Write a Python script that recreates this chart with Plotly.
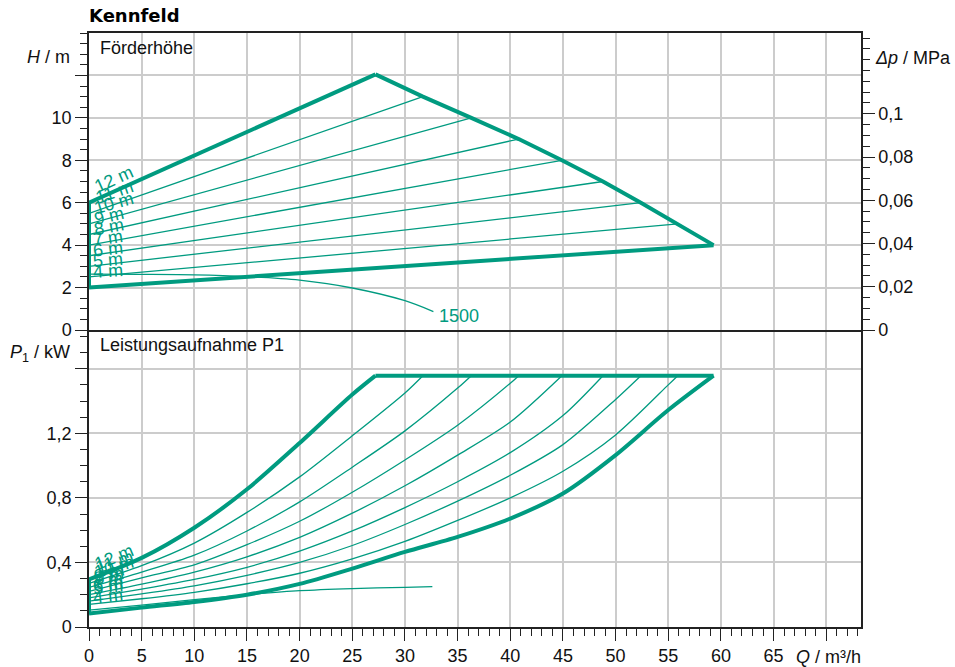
import math
import plotly.graph_objects as go

# ---------------- data ----------------
set_heads = [12, 11, 10, 9, 8, 7, 6, 5, 4]                      # set value, m
head_at_zero_flow = [6.0, 5.5, 5.0, 4.5, 4.0, 3.5, 3.0, 2.5, 2.0]  # H at Q = 0
flow_at_limit = [27.2, 31.7, 36.3, 40.8, 44.9, 48.8, 52.4, 55.9, 59.3]
head_at_limit = [12.05, 11.0, 10.0, 9.0, 8.0, 7.0, 6.0, 5.0, 4.0]

speed_label = "1500"
speed_flow_h = [0, 5, 10, 15, 20, 25, 30, 32.7]
speed_head = [2.63, 2.62, 2.6, 2.52, 2.35, 1.98, 1.38, 0.87]

power_flow = [0, 5, 10, 15, 20, 25, 30, 35, 40, 45, 50, 55]
power_limit = 1.557
p1_12 = [0.295, 0.428, 0.615, 0.853, 1.14, 1.44]
p1_11 = [0.27, 0.38, 0.52, 0.71, 0.93, 1.185, 1.45]
p1_10 = [0.245, 0.34, 0.445, 0.595, 0.775, 0.99, 1.215, 1.48]
p1_9 = [0.22, 0.305, 0.385, 0.51, 0.655, 0.835, 1.035, 1.25, 1.51]
p1_8 = [0.2, 0.265, 0.34, 0.435, 0.555, 0.705, 0.875, 1.065, 1.27]
p1_7 = [0.18, 0.235, 0.295, 0.37, 0.47, 0.595, 0.74, 0.9, 1.08, 1.31]
p1_6 = [0.16, 0.205, 0.255, 0.32, 0.4, 0.505, 0.635, 0.78, 0.94, 1.13, 1.41]
p1_5 = [0.14, 0.175, 0.215, 0.268, 0.333, 0.422, 0.53, 0.66, 0.8, 0.965, 1.19, 1.5]
p1_4 = [0.083, 0.12, 0.155, 0.2, 0.267, 0.362, 0.465, 0.558, 0.672, 0.827, 1.065, 1.344]
p1_curves = [p1_12, p1_11, p1_10, p1_9, p1_8, p1_7, p1_6, p1_5, p1_4]

speed_flow_p = [0, 5, 10, 15, 20, 25, 30, 32.6]
speed_power = [0.105, 0.135, 0.17, 0.2, 0.225, 0.238, 0.246, 0.25]

q_ticks = [0, 5, 10, 15, 20, 25, 30, 35, 40, 45, 50, 55, 60, 65, 70]
q_tick_labels = ["0", "5", "10", "15", "20", "25", "30", "35", "40", "45",
                 "50", "55", "60", "65", ""]
h_ticks = [0, 2, 4, 6, 8, 10, 12]
h_tick_labels = ["0", "2", "4", "6", "8", "10", ""]
dp_ticks = [0, 0.02, 0.04, 0.06, 0.08, 0.1]
dp_tick_labels = ["0", "0,02", "0,04", "0,06", "0,08", "0,1"]
p_ticks = [0, 0.4, 0.8, 1.2, 1.6]
p_tick_labels = ["0", "0,4", "0,8", "1,2", ""]

# ---------------- style / geometry ----------------
GREEN = "#009B80"
GRID = "#cccccc"
AXC = "#222222"
FONT = "Liberation Sans, Arial, sans-serif"
FS = 18
THICK = 4
THIN = 1.3

FIG_W, FIG_H = 955, 667
M_L, M_R, M_T, M_B = 89, 94, 33, 40
Q_RANGE = [0, 73.3]
H_RANGE = [0, 14]
P_RANGE = [0, 1.84]
MPA_PER_M = 0.00981

plot_w = FIG_W - M_L - M_R
panel_h = (FIG_H - M_T - M_B) / 2
px_q = plot_w / (Q_RANGE[1] - Q_RANGE[0])
px_h = panel_h / (H_RANGE[1] - H_RANGE[0])
px_p = panel_h / (P_RANGE[1] - P_RANGE[0])

fig = go.Figure()


def line(x, y, xa, ya, width, shape="linear"):
    fig.add_trace(go.Scatter(x=x, y=y, xaxis=xa, yaxis=ya, mode="lines",
                             line=dict(color=GREEN, width=width, shape=shape,
                                       smoothing=0.8),
                             hoverinfo="skip", showlegend=False))


# ---- top panel: head ----
n = len(set_heads)
for i in range(1, n - 1):
    line([0, flow_at_limit[i]], [head_at_zero_flow[i], head_at_limit[i]], "x2", "y", THIN)
line(speed_flow_h, speed_head, "x2", "y", THIN, "spline")
line([0, flow_at_limit[0]], [head_at_zero_flow[0], head_at_limit[0]], "x2", "y", THICK)
line([0, flow_at_limit[-1]], [head_at_zero_flow[-1], head_at_limit[-1]], "x2", "y", THICK)
line(flow_at_limit, head_at_limit, "x2", "y", THICK)
line([0, 0], [head_at_zero_flow[-1], head_at_zero_flow[0]], "x2", "y", THICK)

# empty trace so that the secondary (pressure) axis is drawn
fig.add_trace(go.Scatter(x=[], y=[], xaxis="x2", yaxis="y3", mode="lines",
                         hoverinfo="skip", showlegend=False))

# ---- bottom panel: power ----
for i in range(1, n - 1):
    p = p1_curves[i]
    line(power_flow[:len(p)] + [flow_at_limit[i]], p + [power_limit], "x", "y2", THIN, "spline")
line(speed_flow_p, speed_power, "x", "y2", THIN, "spline")
for i in (0, n - 1):
    p = p1_curves[i]
    line(power_flow[:len(p)] + [flow_at_limit[i]], p + [power_limit], "x", "y2", THICK, "spline")
line([flow_at_limit[0], flow_at_limit[-1]], [power_limit, power_limit], "x", "y2", THICK)
line([0, 0], [p1_curves[-1][0], p1_curves[0][0]], "x", "y2", THICK)

# ---- curve labels ----
annotations = []


def curve_label(text, y0, slope, px_y, xref, yref):
    k = slope * px_y / px_q
    th = math.atan(k)
    w = FS * (0.556 * sum(c.isdigit() for c in text) + 0.278 + 0.833)
    cx = 3 + (w / 2) * math.cos(th) + 10 * math.sin(th)
    v = 16.5 - 11 * math.sin(th)
    cy = cx * k + v
    annotations.append(dict(text=text, x=0, y=y0, xref=xref, yref=yref,
                            xanchor="center", yanchor="middle", xshift=cx, yshift=cy,
                            textangle=-math.degrees(th), showarrow=False,
                            font=dict(family=FONT, size=FS, color=GREEN)))


for i in range(n - 1, -1, -1):
    lab = f"{set_heads[i]} m"
    slope_h = (head_at_limit[i] - head_at_zero_flow[i]) / flow_at_limit[i]
    curve_label(lab, head_at_zero_flow[i], slope_h, px_h, "x2", "y")
    p = p1_curves[i]
    slope_p = (p[1] - p[0]) / (power_flow[1] - power_flow[0])
    curve_label(lab, p[0], slope_p, px_p, "x", "y2")

annotations.append(dict(text=speed_label, x=speed_flow_h[-1] + 0.3, y=speed_head[-1] - 0.2,
                        xref="x2", yref="y", xanchor="left", yanchor="middle",
                        showarrow=False, font=dict(family=FONT, size=FS, color=GREEN)))

# ---- titles ----
txt = dict(family=FONT, size=FS, color="#111111")
annotations += [
    dict(text="<b>Kennfeld</b>", xref="paper", yref="paper", x=0, y=1, xanchor="left",
         yanchor="middle", xshift=-2, yshift=18, showarrow=False,
         font=dict(family="DejaVu Sans", size=18, color="#000000")),
    dict(text="Förderhöhe", xref="paper", yref="paper", x=0, y=1, xanchor="left",
         yanchor="middle", xshift=9, yshift=-14.5, showarrow=False, font=txt),
    dict(text="Leistungsaufnahme P1", xref="paper", yref="paper", x=0, y=0.5,
         xanchor="left", yanchor="middle", xshift=9, yshift=-15, showarrow=False, font=txt),
    dict(text="<i>H</i> / m", xref="paper", yref="paper", x=0, y=1, xanchor="right",
         yanchor="middle", xshift=-17, yshift=-23.7, showarrow=False, font=txt),
    dict(text="<i>Δp</i> / MPa", xref="paper", yref="paper", x=1, y=1, xanchor="left",
         yanchor="middle", xshift=12, yshift=-25, showarrow=False, font=txt),
    dict(text="<i>P</i><sub>1</sub> / kW", xref="paper", yref="paper", x=0, y=0.5,
         xanchor="right", yanchor="middle", xshift=-17, yshift=-23, showarrow=False, font=txt),
    dict(text="<i>Q</i> / m³/h", xref="paper", yref="paper", x=1, y=0, xanchor="right",
         yanchor="middle", xshift=2, yshift=-30, showarrow=False, font=txt),
]

axis_common = dict(showline=True, linecolor=AXC, linewidth=1.5, automargin=False,
                   gridcolor=GRID, gridwidth=1.5, zeroline=False,
                   tickfont=dict(family=FONT, size=FS, color="#111111"),
                   tickcolor=AXC, tickwidth=1.3, fixedrange=True)

fig.update_layout(
    width=FIG_W, height=FIG_H, autosize=False,
    margin=dict(l=M_L, r=M_R, t=M_T, b=M_B, pad=0, autoexpand=False),
    paper_bgcolor="white", plot_bgcolor="white",
    showlegend=False,
    font=dict(family=FONT, size=FS, color="#111111"),
    separators=",.",
    annotations=annotations,
    xaxis=dict(domain=[0, 1], anchor="y2", range=Q_RANGE, tickmode="array",
               tickvals=q_ticks, ticktext=q_tick_labels, ticks="outside", ticklen=12,
               showgrid=True, mirror=False,
               minor=dict(tickmode="linear", tick0=0, dtick=1, ticks="outside",
                          ticklen=7, tickcolor=AXC, showgrid=False),
               **axis_common),
    xaxis2=dict(domain=[0, 1], anchor="y", range=Q_RANGE, matches="x", tickmode="array",
                tickvals=q_ticks, showticklabels=False, ticks="", showgrid=True,
                mirror=True, **axis_common),
    yaxis=dict(domain=[0.5, 1], anchor="x2", range=H_RANGE, tickmode="array",
               tickvals=h_ticks, ticktext=h_tick_labels, ticks="outside", ticklen=12,
               showgrid=True, mirror=False,
               minor=dict(tickmode="linear", tick0=0, dtick=0.5, ticks="outside",
                          ticklen=7, tickcolor=AXC, showgrid=False),
               **axis_common),
    yaxis2=dict(domain=[0, 0.5], anchor="x", range=P_RANGE, tickmode="array",
                tickvals=p_ticks, ticktext=p_tick_labels, ticks="outside", ticklen=12,
                showgrid=True, mirror=True,
                minor=dict(tickmode="linear", tick0=0, dtick=0.1, ticks="outside",
                           ticklen=7, tickcolor=AXC, showgrid=False),
                **axis_common),
    yaxis3=dict(overlaying="y", anchor="x2", side="right",
                range=[H_RANGE[0] * MPA_PER_M, H_RANGE[1] * MPA_PER_M],
                tickmode="array", tickvals=dp_ticks, ticktext=dp_tick_labels,
                ticks="outside", ticklen=12, showgrid=False, showline=True,
                linecolor=AXC, linewidth=1.5, zeroline=False, automargin=False,
                tickfont=dict(family=FONT, size=FS, color="#111111"),
                tickcolor=AXC, tickwidth=1.3, fixedrange=True,
                minor=dict(tickmode="linear", tick0=0, dtick=0.005, ticks="outside",
                           ticklen=7, tickcolor=AXC, showgrid=False)),
)

fig.write_html("out.html",
               config={"displayModeBar": False, "responsive": False},
               post_script="document.body.style.margin='0';")
